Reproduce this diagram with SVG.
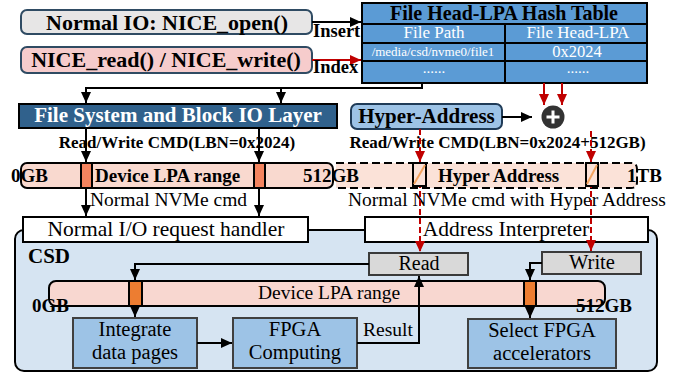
<svg xmlns="http://www.w3.org/2000/svg" width="694" height="379" viewBox="0 0 694 379">
  <style>
    text { font-family: "Liberation Serif", "Times New Roman", serif; fill: #000; }
    .b { font-weight: bold; }
    .w { fill: #fff; }
    .mid { text-anchor: middle; }
    .ln { fill: none; stroke: #000; stroke-width: 2; }
    .red { fill: none; stroke: #c00000; stroke-width: 2; }
    .dash { stroke-dasharray: 6 3; }
    .blue { fill: #9dc3e6; stroke: #404040; stroke-width: 2; }
    .gray { fill: #d9d9d9; stroke: #3a3a3a; stroke-width: 2; }
    .bar { fill: #f9d9cf; stroke: #000; stroke-width: 2; }
    .tbl { fill: #5b9bd5; stroke: #000; stroke-width: 2; }
  </style>
  <defs>
    <marker id="ah" markerUnits="userSpaceOnUse" markerWidth="12" markerHeight="10" refX="11" refY="5" orient="auto">
      <path d="M0,0 L11,5 L0,10 z" fill="#000"/>
    </marker>
    <marker id="ahr" markerUnits="userSpaceOnUse" markerWidth="12" markerHeight="10" refX="11" refY="5" orient="auto">
      <path d="M0,0 L11,5 L0,10 z" fill="#c00000"/>
    </marker>
  </defs>

  <!-- CSD container (behind the interface boxes) -->
  <g id="csd">
    <rect x="15" y="230" width="642" height="141" rx="9" fill="#d6e4f2" stroke="#000" stroke-width="2"/>
    <text class="b" x="28" y="263" font-size="21">CSD</text>
  </g>

  <!-- host side -->
  <g id="open">
    <rect x="21" y="10" width="291" height="24" rx="6" fill="#e7e6e6" stroke="#2f4b63" stroke-width="2"/>
    <text class="b mid" x="167" y="30" font-size="22">Normal IO: NICE_open()</text>
  </g>
  <g id="readwrite">
    <rect x="21" y="47" width="291" height="26" rx="6" fill="#f6cccc" stroke="#2f4b63" stroke-width="2"/>
    <text class="b mid" x="166" y="67" font-size="22">NICE_read() / NICE_write()</text>
  </g>

  <g id="hashtable">
    <rect class="tbl" x="362" y="3" width="285" height="21"/>
    <rect class="tbl" x="362" y="24" width="143" height="19"/>
    <rect class="tbl" x="505" y="24" width="142" height="19"/>
    <rect class="tbl" x="362" y="43" width="143" height="18"/>
    <rect class="tbl" x="505" y="43" width="142" height="18"/>
    <rect class="tbl" x="362" y="61" width="143" height="22"/>
    <rect class="tbl" x="505" y="61" width="142" height="22"/>
    <text class="b mid" x="504" y="20" font-size="20">File Head-LPA Hash Table</text>
    <text class="w mid" x="434" y="38" font-size="17">File Path</text>
    <text class="w mid" x="578" y="38" font-size="17">File Head-LPA</text>
    <text class="w mid" x="433" y="56" font-size="13">/media/csd/nvme0/file1</text>
    <text class="w mid" x="577" y="57" font-size="16.5">0x2024</text>
    <text class="w mid" x="434" y="73" font-size="15">......</text>
    <text class="w mid" x="578" y="73" font-size="15">......</text>
  </g>

  <g id="fslayer">
    <rect x="19" y="104" width="318" height="24" fill="#30618c" stroke="#000" stroke-width="2"/>
    <text class="b w mid" x="178" y="122" font-size="21">File System and Block IO Layer</text>
  </g>

  <g id="hyperaddr">
    <rect x="351" y="104" width="151" height="25" rx="6" fill="#9dc3e6" stroke="#1f3b57" stroke-width="2"/>
    <text class="b mid" x="426.5" y="123" font-size="21">Hyper-Address</text>
  </g>

  <g id="adder">
    <circle cx="553" cy="117" r="11.5" fill="#333"/>
    <path d="M546.5,117 H559.5 M553,110.5 V123.5" stroke="#fff" stroke-width="3"/>
  </g>

  <g id="cmdlabels">
    <text class="b mid" x="177" y="148" font-size="17">Read/Write CMD(LBN=0x2024)</text>
    <text class="b mid" x="497.5" y="148" font-size="17">Read/Write CMD(LBN=0x2024+512GB)</text>
  </g>

  <!-- address ranges -->
  <g id="hyperbar">
    <path d="M336,163 H631 Q637,163 637,169 V182 Q637,188 631,188 H336" fill="#fbe2d8" stroke="#000" stroke-width="2" stroke-dasharray="8 4"/>
    <text class="b" x="438" y="182" font-size="19">Hyper Address</text>
  </g>
  <g id="devicebar">
    <rect class="bar" x="21" y="163" width="312" height="25" rx="6"/>
    <rect x="81" y="163" width="11" height="25" fill="#f4845f" stroke="#000" stroke-width="2"/>
    <rect x="254" y="163" width="11" height="25" fill="#f4845f" stroke="#000" stroke-width="2"/>
    <text class="b" x="11" y="182" font-size="19">0GB</text>
    <text class="b" x="95" y="182" font-size="19">Device LPA range</text>
    <text class="b" x="303" y="182" font-size="19">512GB</text>
    <text class="b" x="627" y="182" font-size="19">1TB</text>
  </g>

  <g id="cmdnotes">
    <text x="90" y="206" font-size="19.5">Normal NVMe cmd</text>
    <text x="348" y="206" font-size="19.5">Normal NVMe cmd with Hyper Address</text>
  </g>

  <g id="handler">
    <rect x="23" y="217" width="285" height="25" fill="#fff" stroke="#000" stroke-width="2"/>
    <text class="mid" x="166" y="236" font-size="21.5">Normal I/O request handler</text>
  </g>
  <g id="interpreter">
    <rect x="365" y="217" width="283" height="25" fill="#fff" stroke="#000" stroke-width="2"/>
    <text class="mid" x="506" y="236" font-size="21.5">Address Interpreter</text>
  </g>

  <!-- inside the CSD -->
  <g id="readbox">
    <rect class="gray" x="369" y="253" width="99" height="22"/>
    <text class="mid" x="419" y="270" font-size="20">Read</text>
  </g>
  <g id="writebox">
    <rect class="gray" x="542" y="252" width="99" height="22"/>
    <text class="mid" x="592" y="269" font-size="20.5">Write</text>
  </g>

  <g id="csdbar">
    <rect x="49" y="281" width="556" height="25" rx="7" fill="#f8d7d0" stroke="#000" stroke-width="2"/>
    <rect x="129" y="281" width="13" height="25" fill="#ed7d31" stroke="#000" stroke-width="2"/>
    <rect x="524" y="281" width="12" height="25" fill="#ed7d31" stroke="#000" stroke-width="2"/>
    <text x="258" y="299" font-size="19.5">Device LPA range</text>
    <text class="b" x="32" y="312" font-size="19">0GB</text>
    <text class="b" x="576" y="312" font-size="19">512GB</text>
  </g>

  <g id="integrate">
    <rect class="blue" x="73" y="318" width="124" height="50"/>
    <text class="mid" x="135" y="336" font-size="20.5">Integrate</text>
    <text class="mid" x="135" y="359" font-size="20.5">data pages</text>
  </g>
  <g id="fpga">
    <rect class="blue" x="233" y="318" width="124" height="50"/>
    <text class="mid" x="295" y="336" font-size="20.5">FPGA</text>
    <text class="mid" x="295" y="359" font-size="20.5">Computing</text>
  </g>
  <g id="select">
    <rect class="blue" x="468" y="319" width="148" height="49"/>
    <text class="mid" x="542" y="337" font-size="20.5">Select FPGA</text>
    <text class="mid" x="542" y="360" font-size="20.5">accelerators</text>
  </g>

  <!-- connectors -->
  <g id="connectors">
    <path class="ln" d="M312,22 H361" marker-end="url(#ah)"/>
    <text class="b" x="313" y="37" font-size="18.5">Insert</text>
    <path class="red" d="M312,60 H361" marker-end="url(#ahr)"/>
    <text class="b" x="313" y="73" font-size="18.5">Index</text>

    <path class="ln" d="M422,83 V88 H86 V103" marker-end="url(#ah)"/>
    <path class="ln" d="M281,88 V103" marker-end="url(#ah)"/>

    <path class="red" d="M544,83 V105" marker-end="url(#ahr)"/>
    <path class="red" d="M562,83 V105" marker-end="url(#ahr)"/>
    <path class="ln" d="M502,117 H532" marker-end="url(#ah)"/>

    <path class="ln" d="M86,128 V162" marker-end="url(#ah)"/>
    <path class="ln" d="M259,128 V162" marker-end="url(#ah)"/>
    <path class="ln" d="M86,188 V216" marker-end="url(#ah)"/>
    <path class="ln" d="M259,188 V216" marker-end="url(#ah)"/>

    <path class="red dash" d="M420,129 V162" marker-end="url(#ahr)"/>
    <path class="red dash" d="M591,131 V162" marker-end="url(#ahr)"/>
    <path class="red dash" d="M420,164 V252" marker-end="url(#ahr)"/>
    <path class="red dash" d="M591,164 V251" marker-end="url(#ahr)"/>

    <path class="ln" d="M369,264 H135 V280" marker-end="url(#ah)"/>
    <path class="ln" d="M542,263 H530 V280" marker-end="url(#ah)"/>
    <path class="ln" d="M135,306 V317" marker-end="url(#ah)"/>
    <path class="ln" d="M530,306 V318" marker-end="url(#ah)"/>
    <path class="ln" d="M197,343 H232" marker-end="url(#ah)"/>
    <path class="ln" d="M357,343 H419 V276" marker-end="url(#ah)"/>
    <text x="363" y="336" font-size="19.5">Result</text>
  </g>

  <!-- hatched hyper-address slots drawn over the red paths -->
  <g id="hyperslots">
    <rect x="413" y="163" width="13" height="23" fill="#fbe2d8" stroke="#000" stroke-width="2"/>
    <path d="M414,184 L425,165" stroke="#f4a460" stroke-width="2"/>
    <rect x="586" y="163" width="12" height="23" fill="#fbe2d8" stroke="#000" stroke-width="2"/>
    <path d="M587,184 L597,165" stroke="#f4a460" stroke-width="2"/>
  </g>
</svg>
